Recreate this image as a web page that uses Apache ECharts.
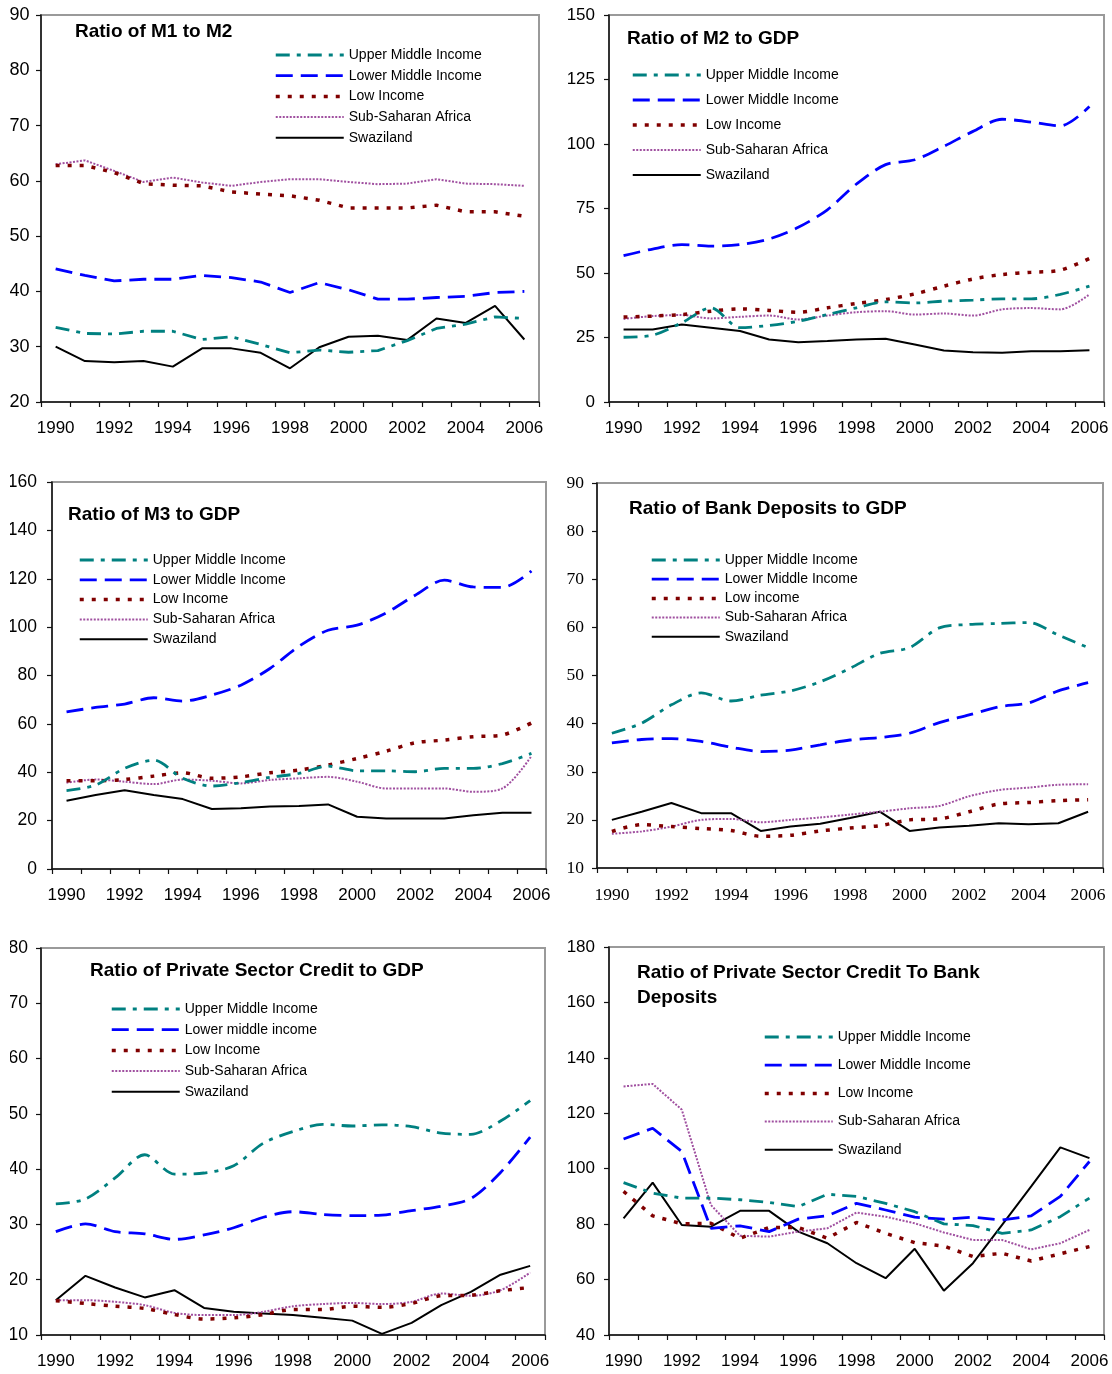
<!DOCTYPE html>
<html>
<head>
<meta charset="utf-8">
<script src="https://cdn.jsdelivr.net/npm/echarts@6/dist/echarts.min.js"></script>
<style>
  html, body { margin: 0; padding: 0; background: #fff; }
  #page { position: relative; width: 1112px; height: 1374px; overflow: hidden; background: #fff; }
  .du_chart { position: absolute; }
</style>
</head>
<body>
<div id="page">
  <div id="c1" class="du_chart"></div>
  <div id="c2" class="du_chart"></div>
  <div id="c3" class="du_chart"></div>
  <div id="c4" class="du_chart"></div>
  <div id="c5" class="du_chart"></div>
  <div id="c6" class="du_chart"></div>
</div>
<script>
var years = ['1990','1991','1992','1993','1994','1995','1996','1997','1998','1999','2000','2001','2002','2003','2004','2005','2006'];

// Ratio of M1 to M2
var m1m2_upper = [33.5,32.4,32.3,32.8,32.8,31.3,31.8,30.4,28.9,29.4,29.0,29.3,31.1,33.3,34.1,35.4,35.1];
var m1m2_lower = [44.1,42.9,41.9,42.2,42.2,42.9,42.5,41.7,39.8,41.6,40.3,38.6,38.6,38.9,39.1,39.8,40.0];
var m1m2_low   = [62.8,62.8,61.5,59.5,59.2,59.1,58.0,57.6,57.3,56.5,55.1,55.1,55.1,55.6,54.4,54.4,53.6];
var m1m2_ssa   = [63.0,63.7,61.8,59.8,60.6,59.7,59.1,59.8,60.3,60.3,59.8,59.4,59.5,60.3,59.5,59.4,59.1];
var m1m2_swazi = [30.0,27.4,27.2,27.4,26.4,29.7,29.7,28.9,26.1,29.9,31.8,32.0,31.2,35.1,34.3,37.4,31.3];

// Ratio of M2 to GDP
var m2gdp_upper = [25.1,25.9,30.7,36.5,28.8,29.7,31.3,33.9,36.5,38.8,38.4,39.1,39.5,40.0,40.0,41.7,44.9];
var m2gdp_lower = [56.7,59.3,61.0,60.4,61.0,63.2,67.7,74.5,84.5,92.0,93.9,99.1,104.9,109.6,108.5,107.0,114.5];
var m2gdp_low   = [32.9,33.3,33.9,35.2,36.1,35.5,34.8,36.5,38.2,39.7,41.9,44.9,47.7,49.4,50.3,51.1,55.6];
var m2gdp_ssa   = [32.2,33.3,33.7,32.4,33.0,33.5,32.0,33.5,34.8,35.2,33.9,34.3,33.5,35.9,36.4,35.9,41.7];
var m2gdp_swazi = [28.1,28.1,30.0,28.8,27.5,24.2,23.2,23.6,24.2,24.5,22.3,20.0,19.3,19.1,19.7,19.7,20.1];

// Ratio of M3 to GDP
var m3gdp_upper = [32.4,34.7,41.6,45.0,37.5,34.3,35.7,37.9,39.5,42.5,40.6,40.6,40.2,41.6,41.6,43.6,47.8];
var m3gdp_lower = [65.0,66.8,68.2,70.8,69.4,71.9,76.0,82.9,92.1,98.7,100.8,105.9,113.2,119.4,116.6,116.4,123.2];
var m3gdp_low   = [36.5,36.5,37.0,38.4,39.8,37.5,38.1,39.8,40.9,43.0,45.7,48.7,52.2,53.3,54.7,55.4,60.4];
var m3gdp_ssa   = [35.7,37.0,36.1,35.1,37.0,36.5,35.4,36.8,37.5,38.1,36.1,33.3,33.3,33.3,31.9,33.3,46.7];
var m3gdp_swazi = [28.2,30.6,32.6,30.6,28.9,24.8,25.1,25.8,26.0,26.7,21.6,20.9,20.9,20.9,22.2,23.3,23.3];

// Ratio of Bank Deposits to GDP
var dep_upper = [38.0,40.1,43.9,46.4,44.7,45.9,46.8,48.7,51.5,54.6,55.8,59.9,60.6,60.8,61.0,58.4,55.8];
var dep_lower = [36.0,36.7,36.9,36.3,35.1,34.2,34.5,35.6,36.6,37.1,38.0,40.2,41.8,43.5,44.3,46.8,48.5];
var dep_low   = [17.6,19.0,18.6,18.2,17.8,16.6,16.8,17.7,18.3,18.8,20.0,20.2,21.7,23.3,23.6,24.0,24.2];
var dep_ssa   = [17.1,17.6,18.6,20.0,20.2,19.5,20.0,20.5,21.1,21.7,22.4,22.9,24.9,26.2,26.7,27.3,27.4];
var dep_swazi = [20.0,21.7,23.5,21.4,21.4,17.7,18.6,19.2,20.4,21.7,17.7,18.4,18.8,19.3,19.1,19.3,21.7];

// Ratio of Private Sector Credit to GDP
var psc_upper = [33.7,34.6,38.4,42.6,39.1,39.3,40.6,44.7,46.8,48.1,47.8,48.0,47.7,46.5,46.3,48.7,52.4];
var psc_lower = [28.7,30.1,28.7,28.3,27.3,28.1,29.4,31.3,32.3,31.8,31.6,31.7,32.5,33.3,34.7,39.4,45.8];
var psc_low   = [16.2,15.7,15.2,14.8,13.7,12.9,13.1,13.7,14.6,14.6,15.2,15.0,15.7,17.1,17.2,18.0,18.6];
var psc_ssa   = [16.3,16.3,16.0,15.4,14.0,13.6,13.6,14.2,15.2,15.6,15.8,15.6,16.0,17.5,17.1,18.1,21.3];
var psc_swazi = [16.3,20.7,18.6,16.8,18.1,14.9,14.2,13.9,13.6,13.1,12.6,10.2,12.2,15.4,17.8,20.9,22.5];

// Ratio of Private Sector Credit To Bank Deposits
var pscdep_upper = [95.0,91.2,89.4,89.4,88.8,87.8,86.3,90.8,90.0,87.5,84.5,80.1,79.5,76.7,77.9,82.7,89.4];
var pscdep_lower = [110.7,114.6,106.2,78.5,79.4,77.3,81.8,83.0,87.5,85.1,82.5,81.8,82.5,81.5,83.0,90.0,102.6];
var pscdep_low   = [91.8,83.0,80.1,80.3,74.9,78.8,78.8,74.9,80.6,76.7,73.3,72.1,68.3,69.5,66.7,69.3,71.9];
var pscdep_ssa   = [129.7,130.6,121.3,86.9,75.8,75.5,77.3,78.5,84.2,82.7,80.3,77.0,74.3,74.3,70.9,73.1,77.9];
var pscdep_swazi = [82.1,95.0,79.7,79.1,84.8,84.8,77.3,73.1,65.9,60.5,71.1,56.0,65.9,79.7,93.6,107.7,103.8];

var styles = [
  { color: '#008080', width: 2.8, type: [14, 7, 4, 7] },   // upper middle
  { color: '#0000ff', width: 2.8, type: [17, 8] },         // lower middle
  { color: '#800000', width: 3.5, type: [4, 8] },          // low income
  { color: '#a050a0', width: 2,   type: [2, 1.5] },        // sub-saharan africa
  { color: '#000000', width: 2,   type: 'solid' }          // swaziland
];

var sans = 'Liberation Sans, Arial, sans-serif';
var serif = 'Liberation Serif, Times New Roman, serif';

var panels = [
  { id: 'c1', box: [10, 0, 556, 460], plot: [41, 15, 539, 402],
    title: 'Ratio of M1 to M2', titleXY: [75, 19.5],
    names: ['Upper Middle Income','Lower Middle Income','Low Income','Sub-Saharan Africa','Swaziland'],
    data: [m1m2_upper, m1m2_lower, m1m2_low, m1m2_ssa, m1m2_swazi],
    y: [20, 90, 10], legend: [274, 48, 6.7], smooth: false, labMargin: 11.5, yFont: 18, font: sans },
  { id: 'c2', box: [556, 0, 1112, 460], plot: [609, 15, 1104, 402],
    title: 'Ratio of M2 to GDP', titleXY: [627, 26.5],
    names: ['Upper Middle Income','Lower Middle Income','Low Income','Sub-Saharan Africa','Swaziland'],
    data: [m2gdp_upper, m2gdp_lower, m2gdp_low, m2gdp_ssa, m2gdp_swazi],
    y: [0, 150, 25], legend: [631, 68, 11], smooth: 0.3, labMargin: 14, yFont: 17, font: sans },
  { id: 'c3', box: [10, 460, 556, 925], plot: [52, 482, 546, 869],
    title: 'Ratio of M3 to GDP', titleXY: [68, 502.5],
    names: ['Upper Middle Income','Lower Middle Income','Low Income','Sub-Saharan Africa','Swaziland'],
    data: [m3gdp_upper, m3gdp_lower, m3gdp_low, m3gdp_ssa, m3gdp_swazi],
    y: [0, 160, 20], legend: [78, 553, 5.8], smooth: 0.3, labMargin: 15, yFont: 17.5, font: sans },
  { id: 'c4', box: [556, 460, 1112, 925], plot: [597, 483, 1103, 868],
    title: 'Ratio of Bank Deposits to GDP', titleXY: [629, 496.5],
    names: ['Upper Middle Income','Lower Middle Income','Low income','Sub-Saharan Africa','Swaziland'],
    data: [dep_upper, dep_lower, dep_low, dep_ssa, dep_swazi],
    y: [10, 90, 10], legend: [650, 553, 5.2], smooth: 0.3, labMargin: 13, yFont: 17.5, font: serif },
  { id: 'c5', box: [10, 925, 556, 1374], plot: [41, 948, 545, 1335],
    title: 'Ratio of Private Sector Credit to GDP', titleXY: [90, 958.5],
    names: ['Upper Middle Income','Lower middle income','Low Income','Sub-Saharan Africa','Swaziland'],
    data: [psc_upper, psc_lower, psc_low, psc_ssa, psc_swazi],
    y: [10, 80, 10], legend: [110, 1002, 6.7], smooth: 0.3, labMargin: 13, yFont: 17.5, font: sans },
  { id: 'c6', box: [556, 925, 1112, 1374], plot: [609, 947, 1104, 1335],
    title: 'Ratio of Private Sector Credit To Bank\nDeposits', titleXY: [637, 960.5],
    names: ['Upper Middle Income','Lower Middle Income','Low Income','Sub-Saharan Africa','Swaziland'],
    data: [pscdep_upper, pscdep_lower, pscdep_low, pscdep_ssa, pscdep_swazi],
    y: [40, 180, 20], legend: [763, 1030, 14.2], smooth: false, labMargin: 14, yFont: 17, font: sans }
];

function build(p) {
  var el = document.getElementById(p.id);
  el.style.left = p.box[0] + 'px';
  el.style.top = p.box[1] + 'px';
  el.style.width = (p.box[2] - p.box[0]) + 'px';
  el.style.height = (p.box[3] - p.box[1]) + 'px';
  var chart = echarts.init(el, null, { renderer: 'canvas' });

  var series = [];
  var legendData = [];
  for (var i = 0; i < 5; i++) {
    var ls = { color: styles[i].color, width: styles[i].width, type: styles[i].type, cap: 'butt' };
    series.push({
      name: p.names[i],
      type: 'line',
      data: p.data[i],
      symbol: 'none',
      smooth: i === 4 ? false : p.smooth,
      silent: true,
      z: 10 - i,
      lineStyle: ls,
      itemStyle: { color: styles[i].color }
    });
    // legend samples keep the series' own width (legend default caps it at 2)
    legendData.push({ name: p.names[i], lineStyle: { width: styles[i].width } });
  }

  var axisText = { color: '#000', fontFamily: p.font, fontSize: p.font === serif ? 17.5 : 17 };

  var opt = {
    animation: false,
    title: {
      text: p.title,
      left: p.titleXY[0] - p.box[0],
      top: p.titleXY[1] - p.box[1],
      padding: 0,
      textStyle: { fontFamily: sans, fontWeight: 'bold', fontSize: 19, color: '#000', lineHeight: 25 }
    },
    legend: {
      orient: 'vertical',
      left: p.legend[0] - p.box[0],
      top: p.legend[1] - p.box[1],
      padding: 0,
      itemWidth: 68,
      itemHeight: 14,
      itemGap: p.legend[2],
      selectedMode: false,
      data: legendData,
      itemStyle: { opacity: 0 },
      textStyle: { fontFamily: sans, fontSize: 14, color: '#000' }
    },
    grid: {
      left: p.plot[0] - p.box[0],
      top: p.plot[1] - p.box[1],
      right: p.box[2] - p.plot[2],
      bottom: p.box[3] - p.plot[3],
      outerBoundsMode: 'none',   // let tick labels run off the edge like the original
      show: true,
      borderColor: '#9a9a9a',
      borderWidth: 2,
      backgroundColor: 'transparent'
    },
    xAxis: {
      type: 'category',
      data: years,
      boundaryGap: true,
      axisLine: { lineStyle: { color: '#111', width: 1.5 } },
      axisTick: { show: true, interval: 0, length: 5, lineStyle: { color: '#111', width: 1.2 } },
      axisLabel: Object.assign({ interval: 1, margin: 18 }, axisText),
      splitLine: { show: false }
    },
    yAxis: {
      type: 'value',
      min: p.y[0], max: p.y[1], interval: p.y[2],
      axisLine: { show: true, lineStyle: { color: '#111', width: 1.5 } },
      axisTick: { show: true, length: 5, lineStyle: { color: '#111', width: 1.2 } },
      axisLabel: Object.assign({}, axisText, { margin: p.labMargin, fontSize: p.yFont }),
      splitLine: { show: false }
    },
    series: series
  };
  chart.setOption(opt, true);
  return chart;
}

var charts = panels.map(build);
</script>
</body>
</html>
